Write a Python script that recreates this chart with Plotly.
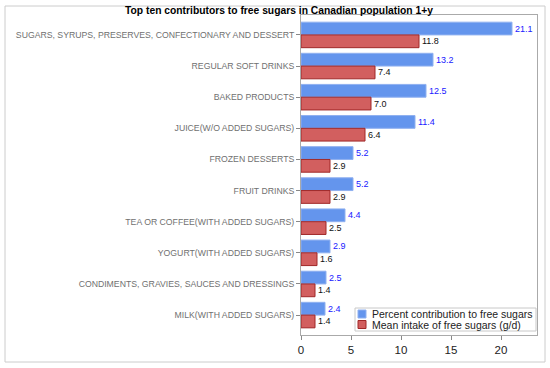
import plotly.graph_objects as go

categories = [
    "SUGARS, SYRUPS, PRESERVES, CONFECTIONARY AND DESSERT",
    "REGULAR SOFT DRINKS",
    "BAKED PRODUCTS",
    "JUICE(W/O ADDED SUGARS)",
    "FROZEN DESSERTS",
    "FRUIT DRINKS",
    "TEA OR COFFEE(WITH ADDED SUGARS)",
    "YOGURT(WITH ADDED SUGARS)",
    "CONDIMENTS, GRAVIES, SAUCES AND DRESSINGS",
    "MILK(WITH ADDED SUGARS)",
]
percent_contribution = [21.1, 13.2, 12.5, 11.4, 5.2, 5.2, 4.4, 2.9, 2.5, 2.4]
mean_intake = [11.8, 7.4, 7.0, 6.4, 2.9, 2.9, 2.5, 1.6, 1.4, 1.4]
series_names = ["Percent contribution to free sugars", "Mean intake of free sugars (g/d)"]
x_ticks = [0, 5, 10, 15, 20]

BLUE = "#6495ED"
RED = "#D25F5F"
FONT = "Liberation Sans, Arial"

fig = go.Figure()
fig.add_trace(go.Bar(
    y=categories, x=percent_contribution, orientation="h",
    name=series_names[0],
    marker=dict(color=BLUE, line=dict(color="#8FB0F0", width=1)),
    text=percent_contribution, texttemplate="%{x:.1f}", textposition="outside",
    textfont=dict(color="#2020FF", size=9, family=FONT),
    cliponaxis=False,
))
fig.add_trace(go.Bar(
    y=categories, x=mean_intake, orientation="h",
    name=series_names[1],
    marker=dict(color=RED, line=dict(color="#A02828", width=1)),
    text=mean_intake, texttemplate="%{x:.1f}", textposition="outside",
    textfont=dict(color="#111111", size=9, family=FONT),
    cliponaxis=False,
))

W, H = 550, 368
L, R, T, B = 301, 13, 15, 33
pw, ph = W - L - R, H - T - B


def px(x):
    return (x - L) / pw


def py(y):
    return (H - B - y) / ph


fig.update_layout(
    width=W, height=H,
    barmode="group", bargap=0.18, bargroupgap=0,
    margin=dict(l=L, r=R, t=T, b=B),
    paper_bgcolor="white", plot_bgcolor="white",
    font=dict(family=FONT, color="#333333"),
    title=dict(
        text="<b>Top ten contributors to free sugars in Canadian population 1+y</b>",
        x=279 / W, xanchor="center", xref="container",
        y=1 - 10 / H, yanchor="middle", yref="container",
        font=dict(size=10.3, color="black", family=FONT),
    ),
    showlegend=False,
)
fig.update_xaxes(
    range=[0, 23.6], tickvals=x_ticks, ticks="outside", ticklen=4,
    tickcolor="#888888", showgrid=False, zeroline=False,
    showline=True, linecolor="#AAAAAA", mirror=True,
    tickfont=dict(size=11.5, color="#222222"),
)
fig.update_yaxes(
    range=[9.64, -0.64], ticks="outside", ticklen=4, tickcolor="#888888",
    showgrid=False, showline=True, linecolor="#AAAAAA", mirror=True,
    tickfont=dict(size=8.7, color="#707070"),
)
# outer frame
fig.add_shape(
    type="rect", xref="paper", yref="paper",
    x0=px(5), x1=px(545), y0=py(362), y1=py(6),
    line=dict(color="#CCCCCC", width=1), layer="above",
)
# legend box
fig.add_shape(
    type="rect", xref="paper", yref="paper",
    x0=px(355), x1=px(536), y0=py(331), y1=py(308),
    line=dict(color="#C8C8C8", width=1), fillcolor="white", layer="above",
)
for i, (name, col, lc) in enumerate(zip(series_names, [BLUE, RED], ["#8FB0F0", "#A02828"])):
    cy = 314 + i * 10.5
    fig.add_shape(
        type="rect", xref="paper", yref="paper",
        x0=px(358), x1=px(366), y0=py(cy + 4), y1=py(cy - 4),
        line=dict(color=lc, width=1), fillcolor=col, layer="above",
    )
    fig.add_annotation(
        text=name, xref="paper", yref="paper", x=px(370), y=py(cy),
        xanchor="left", yanchor="middle", showarrow=False,
        font=dict(size=10.5, color="#222222", family=FONT),
    )
fig.write_html(
    "out.html",
    config={"displayModeBar": False},
    post_script="document.body.style.margin='0';",
)
